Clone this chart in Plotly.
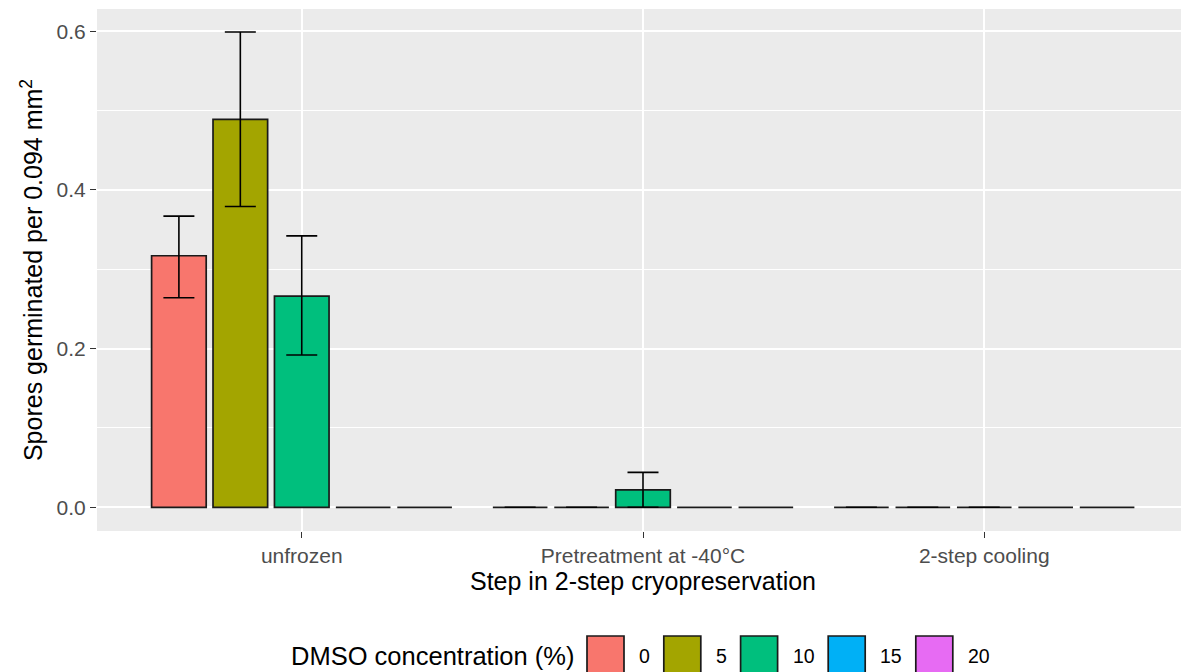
import plotly.graph_objects as go

steps = ["unfrozen", "Pretreatment at -40°C", "2-step cooling"]
dmso_levels = ["0", "5", "10", "15", "20"]
colors = ["#F8766D", "#A3A500", "#00BF7D", "#00B0F6", "#E76BF3"]

# mean values per DMSO level, across steps
means = {
    "0":  [0.317, 0.0, 0.0],
    "5":  [0.489, 0.0, 0.0],
    "10": [0.266, 0.022, 0.0],
    "15": [0.0, 0.0, 0.0],
    "20": [0.0, 0.0, 0.0],
}
upper = {
    "0":  [0.367, None, None],
    "5":  [0.599, None, None],
    "10": [0.342, 0.044, None],
    "15": [None, None, None],
    "20": [None, None, None],
}
lower = {
    "0":  [0.264, None, None],
    "5":  [0.379, None, None],
    "10": [0.192, 0.0, None],
    "15": [None, None, None],
    "20": [None, None, None],
}

# the page body has an 8px margin, so the figure is placed at (8, 8)
OFF = 8
W, H = 1189 - OFF, 672 - OFF
ML, MR, MT = 97 - OFF, 0, 9 - OFF
MB = H - (531 - OFF)
PW, PH = W - ML - MR, H - MT - MB


def px_x(p):
    return (p - OFF - ML) / PW


def px_y(p):
    return (H - MB - (p - OFF)) / PH


font = "Liberation Sans, Arial, sans-serif"

fig = go.Figure()
for lvl, col in zip(dmso_levels, colors):
    m = means[lvl]
    up = [(u - v) if u is not None else 0 for u, v in zip(upper[lvl], m)]
    lo = [(v - l) if l is not None else 0 for l, v in zip(lower[lvl], m)]
    has_err = any(u is not None for u in upper[lvl])
    fig.add_trace(go.Bar(
        x=steps, y=m, name=lvl, showlegend=False,
        marker=dict(color=col, line=dict(color="#1a1a1a", width=1.7)),
        error_y=dict(type="data", symmetric=False, array=up, arrayminus=lo,
                     color="black", thickness=1.6, width=15.5, visible=has_err),
    ))

# manual legend (ggplot style, large keys) at the bottom
shapes = []
annotations = [dict(
    text="DMSO concentration (%)", x=px_x(289), y=px_y(656), xref="paper", yref="paper",
    xanchor="left", yanchor="middle", showarrow=False,
    font=dict(family=font, size=25.5, color="black"))]
kx = 587.0
key_w, key_h = 37, 37
key_top = 636
for lvl, col in zip(dmso_levels, colors):
    shapes.append(dict(type="rect", xref="paper", yref="paper",
                       x0=px_x(kx), x1=px_x(kx + key_w), y0=px_y(key_top + key_h), y1=px_y(key_top),
                       fillcolor=col, line=dict(color="#1a1a1a", width=1.7), layer="above"))
    lx = kx + key_w + 13
    annotations.append(dict(text=lvl, x=px_x(lx), y=px_y(656), xref="paper", yref="paper",
                            xanchor="left", yanchor="middle", showarrow=False,
                            font=dict(family=font, size=19.5, color="black")))
    kx = lx + 10.8 * len(lvl) + 16

fig.update_layout(
    width=W, height=H,
    margin=dict(l=ML, r=MR, t=MT, b=MB),
    paper_bgcolor="white", plot_bgcolor="#EBEBEB",
    barmode="group", bargap=0.1, bargroupgap=0.111,
    font=dict(family=font, color="black"),
    showlegend=False,
    shapes=shapes, annotations=annotations,
    xaxis=dict(
        type="category", range=[-0.6, 2.6], automargin=False,
        showgrid=True, gridcolor="white", gridwidth=1.6,
        ticks="outside", ticklen=6, tickcolor="#333333", tickwidth=1.3,
        tickfont=dict(size=21, color="#4D4D4D"),
        title=dict(text="Step in 2-step cryopreservation", font=dict(size=25, color="black"), standoff=2),
        zeroline=False, showline=False,
    ),
    yaxis=dict(
        range=[-0.0299, 0.628], automargin=False,
        tickvals=[0, 0.2, 0.4, 0.6], ticktext=["0.0", "0.2", "0.4", "0.6"],
        showgrid=True, gridcolor="white", gridwidth=1.6,
        minor=dict(tickvals=[0.1, 0.3, 0.5], showgrid=True, gridcolor="white", gridwidth=0.8, ticks=""),
        ticks="outside", ticklen=6, tickcolor="#333333", tickwidth=1.3,
        tickfont=dict(size=21, color="#4D4D4D"),
        title=dict(text="Spores germinated per 0.094 mm<sup>2</sup>", font=dict(size=25, color="black"), standoff=6),
        zeroline=False, showline=False,
    ),
)

fig.write_html("out.html")
